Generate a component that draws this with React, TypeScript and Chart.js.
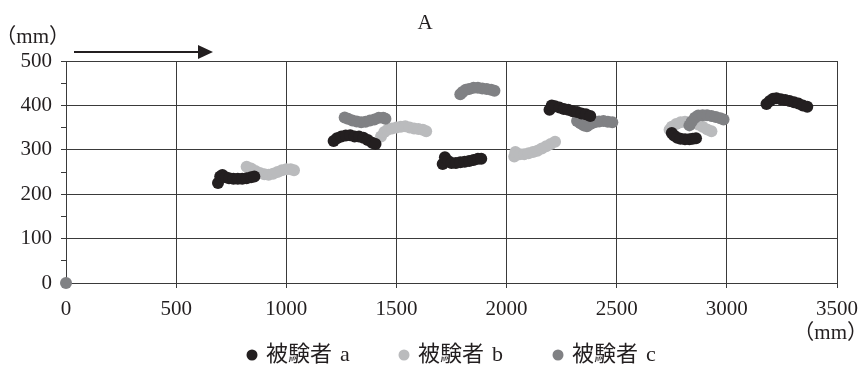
import React, { useEffect, useRef } from "react";
import { Chart, registerables } from "chart.js";

Chart.register(...registerables);

// Walking trace positions (x: forward distance in mm, y: lateral position in mm)
const seriesNames = ["被験者 a", "被験者 b", "被験者 c"];
const seriesColors = ["#231f20", "#babbbd", "#808184"];

const subjectA: [number, number][] = [
  [690, 225], [700, 240], [710, 243], [725, 238], [740, 236], [760, 235], [780, 235], [800, 235], [820, 236], [840, 238], [855, 240],
  [1215, 320], [1230, 326], [1250, 330], [1270, 332], [1290, 333], [1310, 330], [1330, 330], [1350, 327], [1370, 322], [1390, 316], [1405, 313],
  [1710, 268], [1720, 283], [1735, 275], [1750, 270], [1770, 270], [1790, 272], [1810, 273], [1830, 275], [1850, 277], [1870, 280], [1885, 280],
  [2195, 390], [2205, 400], [2220, 398], [2240, 395], [2260, 392], [2280, 390], [2300, 387], [2320, 385], [2340, 382], [2360, 380], [2380, 376],
  [2750, 338], [2760, 332], [2775, 327], [2790, 325], [2810, 324], [2830, 324], [2845, 325], [2860, 326],
  [3180, 403], [3195, 410], [3210, 415], [3225, 416], [3245, 414], [3265, 412], [3285, 410], [3305, 407], [3325, 404], [3345, 400], [3365, 397],
];

const subjectB: [number, number][] = [
  [820, 262], [840, 258], [860, 252], [880, 248], [900, 245], [920, 244], [940, 246], [960, 250], [980, 254], [1000, 256], [1020, 256], [1035, 254],
  [1430, 330], [1445, 340], [1460, 345], [1480, 348], [1500, 350], [1520, 352], [1540, 353], [1560, 350], [1580, 348], [1600, 347], [1620, 345], [1635, 342],
  [2035, 285], [2040, 295], [2060, 290], [2080, 290], [2100, 292], [2120, 295], [2140, 298], [2160, 303], [2180, 308], [2200, 313], [2220, 318],
  [2740, 345], [2750, 352], [2770, 358], [2790, 362], [2810, 363], [2830, 362], [2850, 360], [2870, 357], [2890, 352], [2910, 346], [2930, 342],
];

const subjectC: [number, number][] = [
  [0, 0],
  [1265, 373], [1280, 370], [1300, 366], [1320, 364], [1340, 362], [1360, 363], [1380, 366], [1400, 368], [1420, 372], [1440, 372], [1450, 370],
  [1790, 425], [1800, 430], [1815, 435], [1830, 437], [1850, 440], [1870, 440], [1890, 438], [1910, 437], [1930, 435], [1945, 433],
  [2320, 365], [2335, 360], [2350, 355], [2365, 353], [2380, 358], [2400, 362], [2420, 364], [2440, 365], [2460, 363], [2480, 362],
  [2830, 355], [2840, 363], [2855, 372], [2870, 377], [2890, 378], [2910, 378], [2930, 376], [2950, 374], [2970, 371], [2985, 368],
];

const seriesData = [subjectA, subjectB, subjectC];
// a drawn on top, then c, then b underneath
const seriesOrder = [0, 2, 1];

const xMin = 0;
const xMax = 3500;
const xStep = 500;
const yMin = 0;
const yMax = 500;
const yStep = 50;
const yLabelStep = 100;

const titleText = "A";
const unitText = "（mm）";

const SERIF = "'Liberation Serif', 'Noto Sans CJK JP', serif";
const INK = "#231f20";
const GRID = "#3a3a3a";

const overlayPlugin = {
  id: "overlayTexts",
  afterDraw(chart: any) {
    const { ctx, chartArea } = chart;
    const { left, right, top, bottom } = chartArea;
    ctx.save();
    ctx.fillStyle = INK;
    ctx.strokeStyle = INK;

    // title
    ctx.font = `21px ${SERIF}`;
    ctx.textAlign = "center";
    ctx.textBaseline = "middle";
    ctx.fillText(titleText, left + 359, top - 38);

    // y unit
    ctx.textAlign = "right";
    ctx.fillText(unitText, left + 4, top - 24);

    // x unit
    ctx.textAlign = "right";
    ctx.fillText(unitText, right + 31, bottom + 50);

    // walking direction arrow
    const ay = top - 9;
    ctx.lineWidth = 2;
    ctx.beginPath();
    ctx.moveTo(left + 8, ay);
    ctx.lineTo(left + 136, ay);
    ctx.stroke();
    ctx.beginPath();
    ctx.moveTo(left + 147, ay);
    ctx.lineTo(left + 132, ay - 7);
    ctx.lineTo(left + 132, ay + 7);
    ctx.closePath();
    ctx.fill();

    // legend
    const legendY = bottom + 72;
    const itemX = [252, 404, 558];
    ctx.textAlign = "left";
    seriesNames.forEach((name, i) => {
      ctx.fillStyle = seriesColors[i];
      ctx.beginPath();
      ctx.arc(itemX[i], legendY, 5.5, 0, Math.PI * 2);
      ctx.fill();
      ctx.fillStyle = INK;
      ctx.font = `22px ${SERIF}`;
      const [word, letter] = name.split(" ");
      ctx.fillText(word, itemX[i] + 14, legendY);
      const w = ctx.measureText(word).width;
      ctx.fillText(letter, itemX[i] + 14 + w + 8, legendY);
    });
    ctx.restore();
  },
};

export default function App() {
  const canvasRef = useRef<HTMLCanvasElement | null>(null);

  useEffect(() => {
    document.body.style.margin = "0";
    const canvas = canvasRef.current;
    if (!canvas) return;

    const chart = new Chart(canvas, {
      type: "scatter",
      data: {
        datasets: seriesData.map((pts, i) => ({
          label: seriesNames[i],
          data: pts.map(([x, y]) => ({ x, y })),
          showLine: false,
          pointRadius: 6,
          pointHoverRadius: 6,
          pointBorderWidth: 0,
          pointBackgroundColor: seriesColors[i],
          backgroundColor: seriesColors[i],
          borderColor: seriesColors[i],
          order: seriesOrder[i],
          clip: false as any,
        })),
      },
      options: {
        responsive: false,
        animation: false,
        devicePixelRatio: 1,
        layout: { padding: { top: 61, right: 25, left: 0, bottom: 0 } },
        plugins: {
          legend: { display: false },
          title: { display: false },
          tooltip: { enabled: false },
        },
        scales: {
          x: {
            type: "linear",
            min: xMin,
            max: xMax,
            afterFit(scale: any) {
              scale.height = 88;
            },
            ticks: {
              stepSize: xStep,
              autoSkip: false,
              maxRotation: 0,
              padding: 9,
              color: INK,
              font: { family: SERIF, size: 21 },
              callback: (v: any) => String(v),
            },
            grid: {
              color: GRID,
              tickColor: GRID,
              tickLength: 5,
              lineWidth: 1,
            },
            border: { color: GRID, width: 1 },
          },
          y: {
            type: "linear",
            min: yMin,
            max: yMax,
            afterFit(scale: any) {
              scale.width = 66;
            },
            ticks: {
              stepSize: yStep,
              autoSkip: false,
              padding: 9,
              color: INK,
              font: { family: SERIF, size: 21 },
              callback: (v: any) => (Number(v) % yLabelStep === 0 ? String(v) : ""),
            },
            grid: {
              color: (c: any) =>
                c.tick && c.tick.value % yLabelStep === 0 ? GRID : "rgba(0,0,0,0)",
              tickColor: GRID,
              tickLength: 5,
              lineWidth: 1,
            },
            border: { color: GRID, width: 1 },
          },
        },
      },
      plugins: [overlayPlugin],
    });

    return () => chart.destroy();
  }, []);

  return (
    <div style={{ width: 867, height: 371, background: "#fff" }}>
      <canvas ref={canvasRef} width={867} height={371} />
    </div>
  );
}
